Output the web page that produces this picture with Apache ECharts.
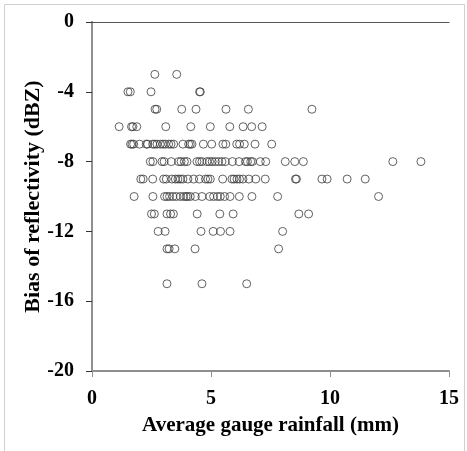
<!DOCTYPE html>
<html>
<head>
<meta charset="utf-8">
<script src="https://cdn.jsdelivr.net/npm/echarts@6/dist/echarts.min.js"></script>
<style>
  html, body { margin: 0; padding: 0; background: #fff; }
  #chart { width: 467px; height: 451px; }
</style>
</head>
<body>
<div id="chart"></div>
<script>
// Bias levels (dBZ) and average gauge rainfall (mm) of the points on each level
const biasLevels = [-3, -4, -5, -6, -7, -8, -9, -10, -11, -12, -13, -15];
const rainM3 = [2.64, 3.56];
const rainM4 = [1.51, 1.61, 2.48, 4.52, 4.55];
const rainM5 = [2.65, 2.72, 3.77, 4.37, 5.63, 6.57, 9.24];
const rainM6 = [1.14, 1.66, 1.72, 1.88, 3.10, 4.15, 4.97, 5.79, 6.35, 6.71, 7.15];
const rainM7 = [1.62, 1.68, 1.75, 2.00, 2.28, 2.34, 2.55, 2.63, 2.73, 2.87, 2.98, 3.08, 3.22, 3.32, 3.43,
                3.82, 4.06, 4.13, 4.20, 4.68, 5.03, 5.50, 5.62, 6.08, 6.20, 6.40, 6.85, 7.55];
const rainM8 = [2.45, 2.56, 2.94, 3.03, 3.33, 3.64, 3.74, 3.88, 3.99, 4.41, 4.52, 4.62, 4.83, 4.94, 5.05,
                5.18, 5.32, 5.46, 5.60, 5.90, 6.18, 6.45, 6.53, 6.67, 6.74, 7.07, 7.30, 8.12, 8.52, 8.88,
                12.64, 13.82];
const rainM9 = [2.05, 2.15, 2.55, 3.01, 3.12, 3.36, 3.50, 3.61, 3.71, 3.82, 4.03, 4.27, 4.51, 4.77, 4.87,
                4.97, 5.49, 5.88, 5.97, 6.09, 6.20, 6.34, 6.59, 6.88, 7.28, 8.55, 8.59, 9.66, 9.88, 10.72,
                11.48];
const rainM10 = [1.77, 2.56, 3.05, 3.15, 3.26, 3.40, 3.54, 3.71, 3.85, 3.95, 4.02, 4.13, 4.34, 4.62, 4.95,
                 5.11, 5.27, 5.39, 5.57, 5.80, 6.19, 6.72, 7.80, 12.04];
const rainM11 = [2.50, 2.62, 3.15, 3.30, 3.42, 4.42, 5.37, 5.93, 8.69, 9.10];
const rainM12 = [2.78, 3.07, 4.58, 5.09, 5.40, 5.80, 8.01];
const rainM13 = [3.15, 3.24, 3.48, 4.33, 7.84];
const rainM15 = [3.15, 4.62, 6.50];
const rainRows = [rainM3, rainM4, rainM5, rainM6, rainM7, rainM8, rainM9, rainM10, rainM11, rainM12, rainM13, rainM15];

const xTicks = [0, 5, 10, 15];
const yTicks = [-20, -16, -12, -8, -4, 0];

const points = [];
rainRows.forEach((row, i) => row.forEach(x => points.push([x, biasLevels[i]])));

const serif = '"Liberation Serif", "Times New Roman", serif';
const chart = echarts.init(document.getElementById('chart'), null, { renderer: 'canvas' });

chart.setOption({
  animation: false,
  backgroundColor: '#fff',
  graphic: [{
    type: 'rect', silent: true, z: -10,
    shape: { x: 4.5, y: 4.5, width: 460, height: 460 },
    style: { fill: 'none', stroke: '#cfcfcf', lineWidth: 1 }
  }],
  grid: { left: 92, right: 18, top: 22, bottom: 80, containLabel: false },
  xAxis: [{
    type: 'value', min: xTicks[0], max: xTicks[xTicks.length - 1], interval: 5,
    name: 'Average gauge rainfall (mm)', nameLocation: 'middle', nameGap: 44, nameMoveOverlap: false,
    nameTextStyle: { fontFamily: serif, fontWeight: 'bold', fontSize: 21, color: '#000' },
    axisLine: { show: true, onZero: false, lineStyle: { color: '#8f8f8f', width: 2 } },
    axisTick: { show: true, inside: false, length: 6, lineStyle: { color: '#8f8f8f', width: 1 } },
    axisLabel: { margin: 18, fontFamily: serif, fontWeight: 'bold', fontSize: 20, color: '#000' },
    splitLine: { show: false }
  }, {
    type: 'value', position: 'top', min: 0, max: 15,
    axisLine: { show: true, lineStyle: { color: '#555', width: 1 } },
    axisTick: { show: false }, axisLabel: { show: false }, splitLine: { show: false }
  }],
  yAxis: [{
    type: 'value', min: yTicks[0], max: yTicks[yTicks.length - 1], interval: 4,
    name: 'Bias of reflectivity (dBZ)', nameLocation: 'middle', nameGap: 48, nameRotate: 90, nameMoveOverlap: false,
    nameTextStyle: { fontFamily: serif, fontWeight: 'bold', fontSize: 22, color: '#000' },
    axisLine: { show: true, onZero: false, lineStyle: { color: '#222', width: 1 } },
    axisTick: { show: true, inside: false, length: 6, lineStyle: { color: '#333', width: 1 } },
    axisLabel: { margin: 18, fontFamily: serif, fontWeight: 'bold', fontSize: 20, color: '#000' },
    splitLine: { show: false }
  }, {
    type: 'value', position: 'right', min: -20, max: 0,
    axisLine: { show: true, lineStyle: { color: '#8f8f8f', width: 2 } },
    axisTick: { show: false }, axisLabel: { show: false }, splitLine: { show: false }
  }],
  series: [{
    type: 'scatter',
    data: points,
    symbol: 'circle',
    symbolSize: 8,
    itemStyle: { color: 'rgba(0,0,0,0)', borderColor: '#3c3c3c', borderWidth: 1 },
    emphasis: { disabled: true }
  }]
});
</script>
</body>
</html>
